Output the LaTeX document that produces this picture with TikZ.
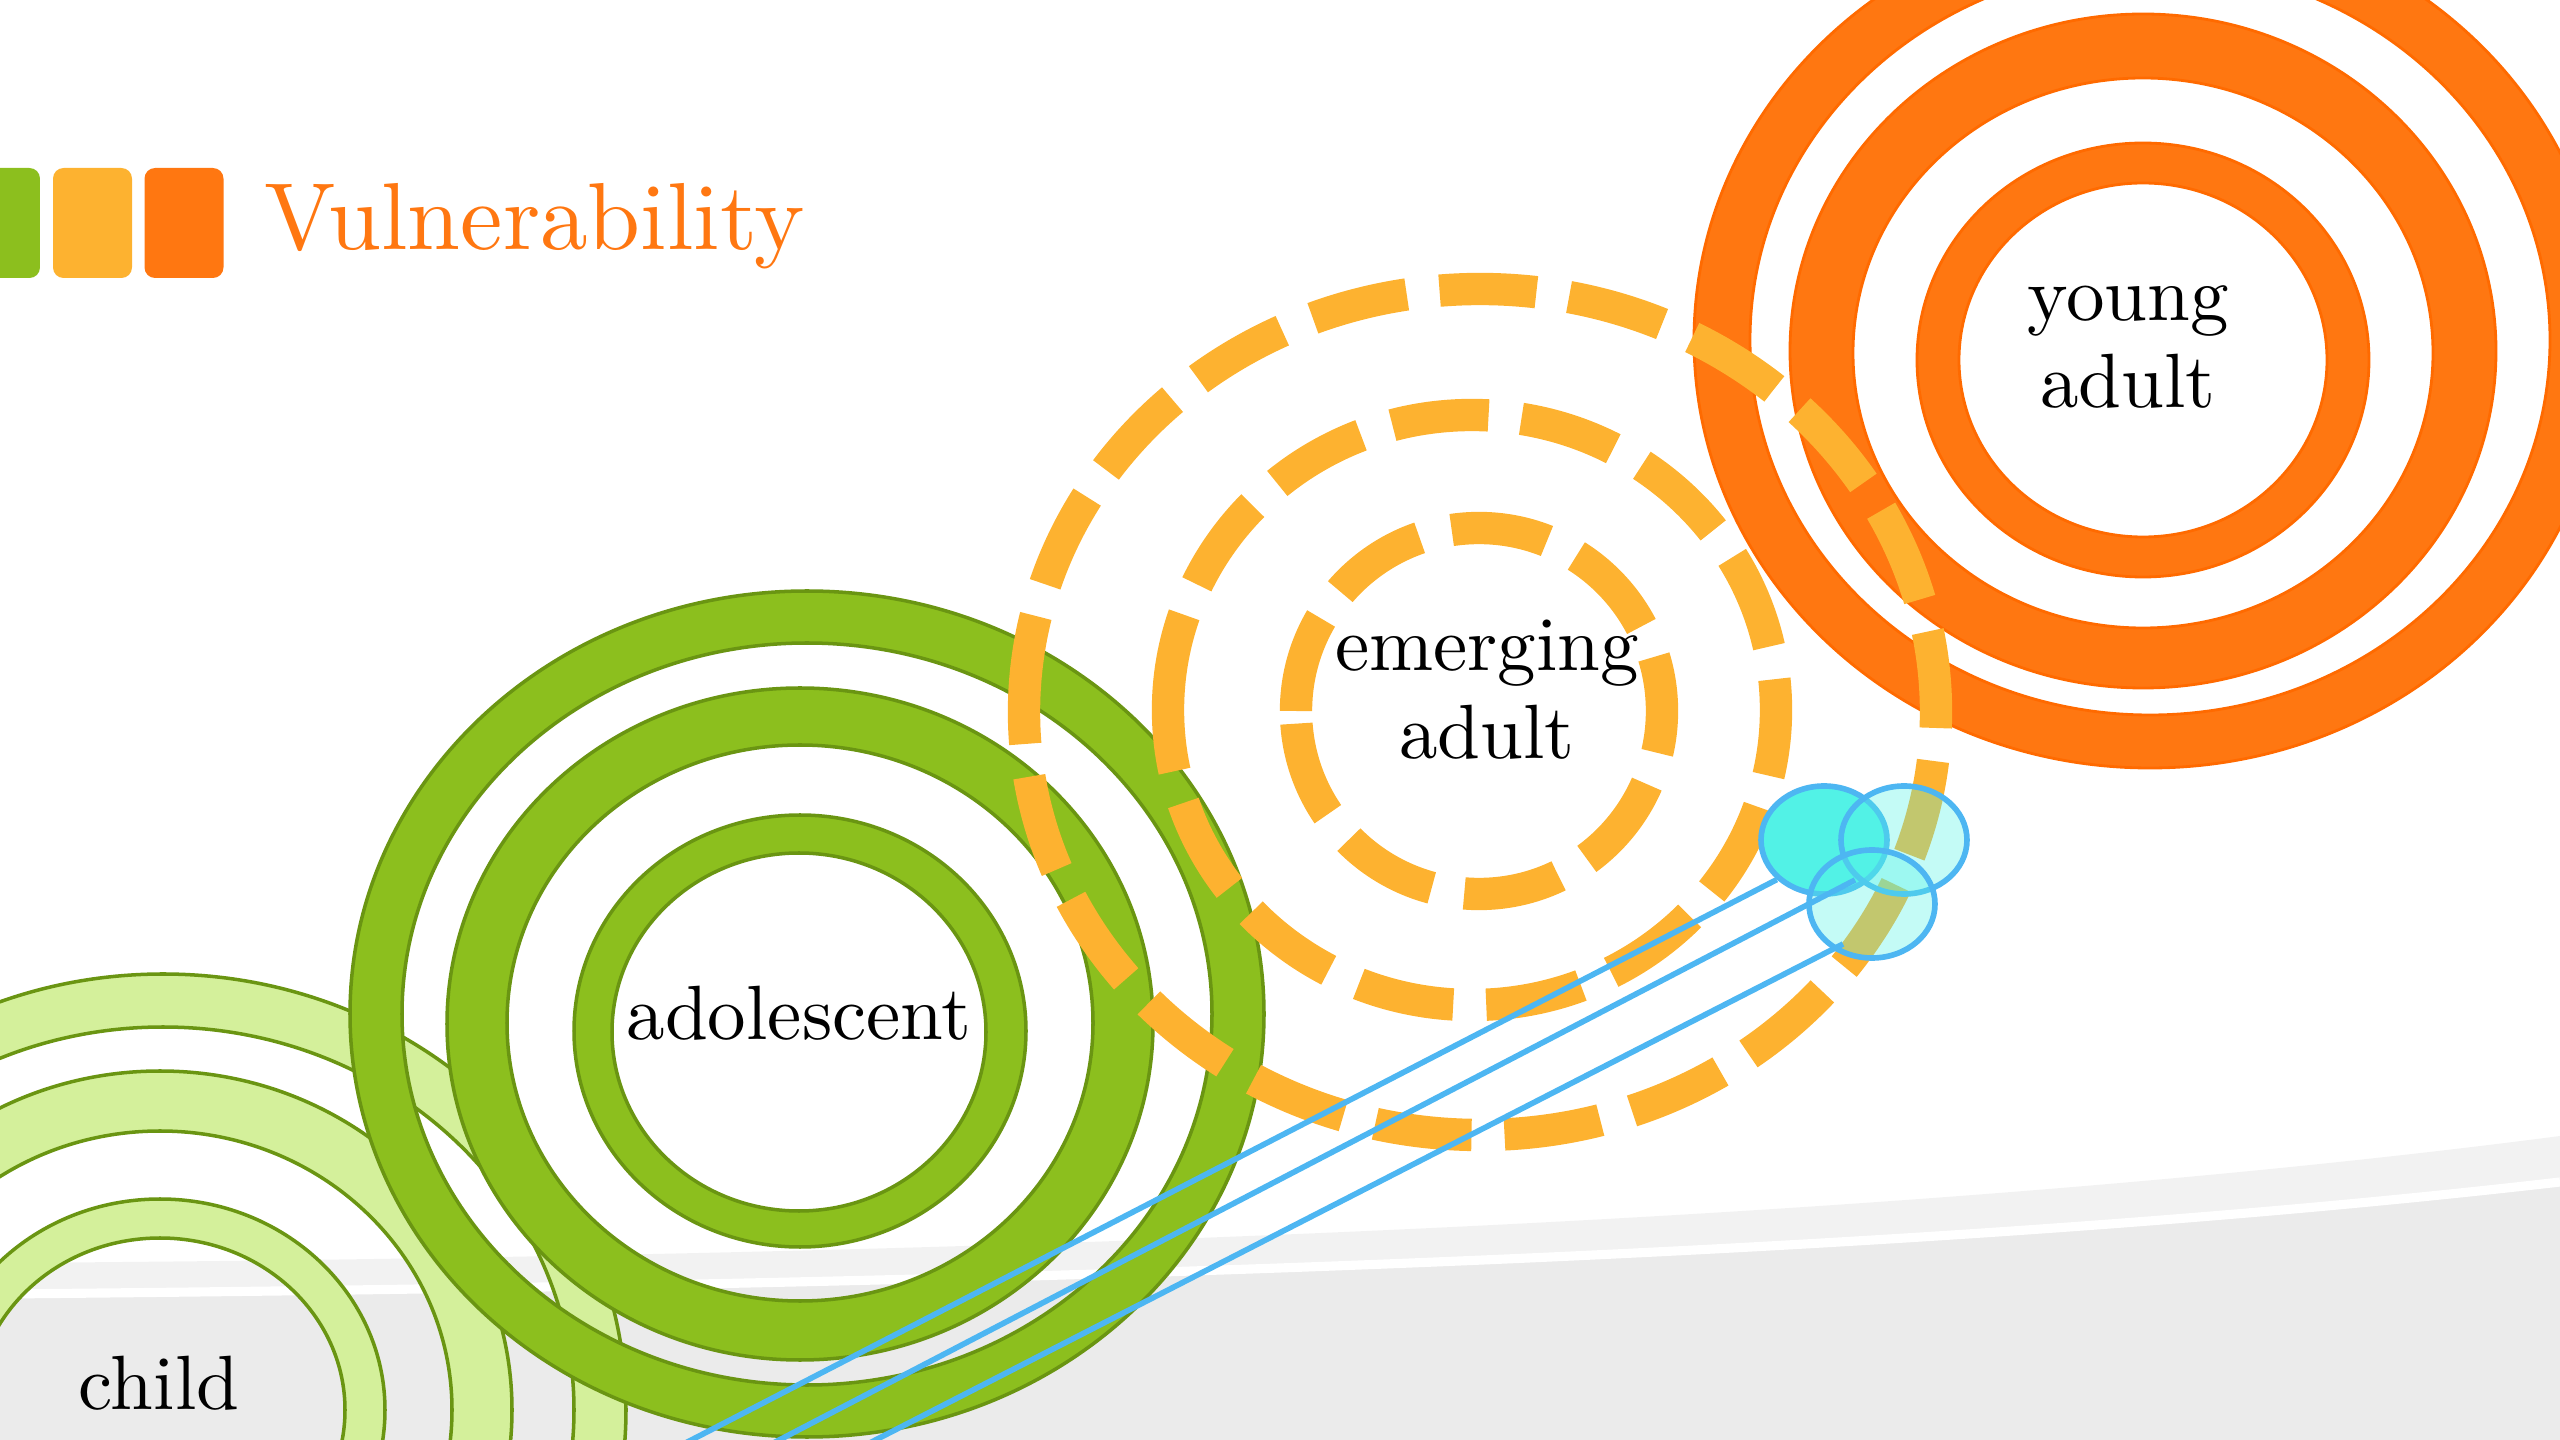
\documentclass[tikz,border=0pt]{standalone}
\usepackage{fontspec}
\setmainfont{lmroman10-regular}[Extension=.otf, BoldFont=lmroman10-bold]
\usepackage{xcolor}
\usepackage{tikz}
\usetikzlibrary{shapes.geometric}

\definecolor{kidgreen}{HTML}{D4F09B}
\definecolor{teengreen}{HTML}{8CBF1E}
\definecolor{ringline}{HTML}{6A9512}
\definecolor{adultorange}{HTML}{FF7711}
\definecolor{adultline}{HTML}{FF6A00}
\definecolor{dashorange}{HTML}{FDB230}
\definecolor{bubblecyan}{HTML}{52F2E6}
\definecolor{linkblue}{HTML}{4DB6F2}
\definecolor{bandlight}{HTML}{F2F2F2}
\definecolor{banddark}{HTML}{EBEBEB}

\begin{document}
\begin{tikzpicture}[x=0.1mm, y=-0.1mm,
  kidring/.style={fill=kidgreen, draw=ringline, line width=1pt, even odd rule},
  teenring/.style={fill=teengreen, draw=ringline, line width=1pt, even odd rule},
  adultring/.style={fill=adultorange, draw=adultline, line width=0.8pt, even odd rule},
  dashring/.style={draw=dashorange, line width=9.2pt, dash pattern=on 27.6pt off 9.4pt},
  bubble/.style={ellipse, draw=linkblue, line width=1.6pt, minimum width=12.6mm,
    minimum height=10.8mm, inner sep=0pt},
  link/.style={draw=linkblue, line width=1.6pt},
  keybox/.style={rectangle, rounded corners=3pt, minimum width=7.9mm, minimum height=11mm,
    inner sep=0pt},
  stagetext/.style={font=\fontsize{21.9}{25}\selectfont, align=center, inner sep=0pt}
]
  \useasboundingbox (0,0) rectangle (2560,1440);
  \clip (0,0) rectangle (2560,1440);

  % grey floor
  \fill[bandlight] (0,1263) .. controls (1000,1256) and (1900,1222) .. (2560,1136)
    -- (2560,1440) -- (0,1440) -- cycle;
  \fill[banddark] (0,1294) .. controls (1000,1285) and (1900,1258) .. (2560,1182)
    -- (2560,1440) -- (0,1440) -- cycle;
  \draw[white, line width=2.6pt] (0,1294) .. controls (1000,1285) and (1900,1258) .. (2560,1182);

  % child
  \filldraw[kidring] (163,1410) ellipse[x radius=463, y radius=436] (163,1410) ellipse[x radius=411, y radius=383];
  \filldraw[kidring] (160,1410) ellipse[x radius=352, y radius=339] (160,1410) ellipse[x radius=292, y radius=279];
  \filldraw[kidring] (160,1410) ellipse[x radius=225, y radius=211] (160,1410) ellipse[x radius=185, y radius=172];

  % adolescent
  \filldraw[teenring] (807,1014) ellipse[x radius=457, y radius=423] (807,1014) ellipse[x radius=405, y radius=371];
  \filldraw[teenring] (800,1024) ellipse[x radius=353, y radius=336] (800,1023) ellipse[x radius=293, y radius=278];
  \filldraw[teenring] (800,1031) ellipse[x radius=226, y radius=216] (799,1032) ellipse[x radius=187, y radius=179];

  % young adult
  \filldraw[adultring] (2150,340) ellipse[x radius=456, y radius=428] (2150,340) ellipse[x radius=400, y radius=375];
  \filldraw[adultring] (2143,351) ellipse[x radius=353, y radius=337] (2143,353) ellipse[x radius=290, y radius=275];
  \filldraw[adultring] (2143,360) ellipse[x radius=226, y radius=217] (2143,360) ellipse[x radius=184, y radius=177];

  % emerging adult
  \draw[dashring] (1480,712) ++(-456,0) arc[start angle=180, end angle=540, x radius=456, y radius=423];
  \draw[dashring] (1472,710) ++(-304,0) arc[start angle=180, end angle=540, x radius=304, y radius=295];
  \draw[dashring] (1479,711) ++(-183,0) arc[start angle=180, end angle=540, x radius=183, y radius=183];

  % bubbles and their strings
  \node[bubble, fill=bubblecyan] (cl) at (1824,840) {};
  \node[bubble, fill=bubblecyan, fill opacity=0.34] (cr) at (1904,840) {};
  \node[bubble, fill=bubblecyan, fill opacity=0.34] (cb) at (1872,904) {};

  \coordinate (s1) at (672,1450);
  \coordinate (s2) at (760,1450);
  \coordinate (s3) at (856,1450);
  \coordinate (e2) at (1855,880);
  \coordinate (e3) at (1843,944);
  \draw[link] (s1) -- (cl.220);
  \draw[link] (s2) -- (e2);
  \draw[link] (s3) -- (e3);

  % stage names
  \node[stagetext, anchor=base] (kid)    at (159,1409) {child};
  \node[stagetext, anchor=base] (teen)   at (799,1040) {adolescent};
  \node[stagetext]              (emerge) at (1487,690) {emerging\\adult};
  \node[stagetext]              (young)  at (2128,347) {young\\adult};

  % key and title
  \node[keybox, fill=teengreen]   (keyteen)   at (0.5,223) {};
  \node[keybox, fill=dashorange]  (keyemerge) at (92.5,223) {};
  \node[keybox, fill=adultorange] (keyyoung)  at (184,223) {};
  \node[anchor=base west, inner sep=0pt, text=adultorange, font=\fontsize{27.1}{32}\selectfont]
    (title) at (264,250) {Vulnerability};
\end{tikzpicture}
\end{document}
